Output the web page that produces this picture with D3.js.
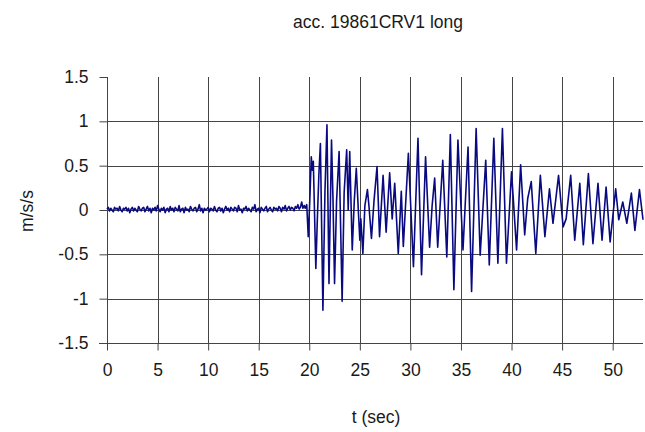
<!DOCTYPE html>
<html>
<head>
<meta charset="utf-8">
<script src="https://cdn.jsdelivr.net/npm/d3@7"></script>
<style>
  body { margin: 0; background: #fff; }
  text { font-family: "Liberation Sans", Arial, sans-serif; fill: #1a1a1a; }
</style>
</head>
<body>
<div id="chart"></div>
<script>
'use strict';

// chart texts
const chartTitle = 'acc. 19861CRV1 long';
const xLabel = 't (sec)';
const yLabel = 'm/s/s';

// tick values
const xTicks = [0, 5, 10, 15, 20, 25, 30, 35, 40, 45, 50];
const yTicks = [-1.5, -1, -0.5, 0, 0.5, 1, 1.5];

// quiet part of the record, one reading every 0.125 s from t = 0 to 19.5 s
const quietStep = 0.125;
const quietAccel = [
  0.01, 0.03, -0.01, 0.02, 0.00, -0.02, 0.03, 0.01, 0.02, -0.01,
  0.04, 0.00, -0.02, 0.02, 0.01, 0.03, -0.01, 0.02, -0.03, 0.01,
  0.03, -0.01, 0.02, 0.00, -0.02, 0.04, 0.01, -0.01, 0.02, 0.03,
  -0.02, 0.01, 0.04, -0.01, 0.02, -0.03, 0.02, 0.00, 0.03, -0.01,
  0.05, 0.01, -0.02, 0.02, 0.00, 0.03, -0.03, 0.01, 0.02, -0.02,
  0.04, 0.00, 0.02, -0.02, 0.03, 0.01, -0.01, 0.05, -0.02, 0.01,
  0.02, -0.03, 0.03, 0.00, 0.01, -0.02, 0.04, 0.01, -0.01, 0.02,
  0.03, -0.02, 0.01, 0.06, -0.01, 0.02, -0.03, 0.02, 0.00, 0.01,
  0.03, -0.02, 0.02, 0.01, -0.01, 0.04, 0.00, -0.02, 0.02, 0.03,
  -0.01, 0.02, -0.03, 0.01, 0.04, 0.00, 0.02, -0.02, 0.03, 0.01,
  -0.01, 0.03, 0.02, -0.02, 0.05, 0.00, 0.01, -0.03, 0.02, 0.01,
  0.04, -0.01, 0.02, 0.00, -0.02, 0.03, 0.01, 0.06, -0.02, 0.01,
  0.02, -0.03, 0.03, 0.01, -0.01, 0.02, 0.04, -0.02, 0.01, 0.03,
  0.00, -0.02, 0.03, 0.01, 0.02, -0.01, 0.04, 0.02, -0.02, 0.03,
  0.01, 0.05, -0.01, 0.02, 0.04, 0.00, 0.03, 0.02, -0.01, 0.04,
  0.02, 0.06, 0.01, 0.03, 0.09, 0.02, 0.05
];

// strong motion, peaks and troughs (time in s, m/s/s)
const strongTimes = [
  19.6, 19.75, 19.9, 20.05, 20.2, 20.3, 20.4, 20.65, 20.8, 20.95,
  21.1, 21.35, 21.55, 21.75, 21.95, 22.2, 22.35, 22.5, 22.7, 22.95,
  23.25, 23.45, 23.7, 23.85, 24.0, 24.25, 24.45, 24.65, 24.85, 25.0,
  25.1, 25.3, 25.5, 25.75, 25.9, 26.15, 26.4, 26.7, 26.95, 27.3,
  27.6, 27.95, 28.2, 28.45, 28.8, 29.1, 29.3, 29.8, 30.3, 30.75,
  31.1, 31.5, 31.9, 32.15, 32.4, 32.7, 33.2, 33.6, 33.95, 34.3,
  34.7, 35.2, 35.7, 36.05, 36.5, 36.9, 37.45, 37.8, 38.25, 38.65,
  39.1, 39.5, 40.0, 40.5, 40.9, 41.3, 41.6, 41.95, 42.4, 42.85,
  43.3, 43.75, 44.1, 44.65, 45.1, 45.4, 45.85, 46.25, 46.75, 47.1,
  47.6, 48.05, 48.55, 48.95, 49.35, 49.75, 50.3, 50.6, 51.0, 51.4,
  51.85, 52.2, 52.65, 53.0
];
const strongAccel = [
  0.02, 0.06, -0.30, 0.10, 0.60, 0.45, 0.55, -0.66, -0.10, 0.40,
  0.75, -1.13, 0.20, 0.96, -0.83, 0.79, 0.10, -0.83, 0.10, 0.66,
  -1.03, 0.20, 0.68, 0.00, 0.66, -0.45, 0.10, 0.47, 0.00, -0.34,
  -0.10, -0.49, 0.05, 0.23, 0.05, -0.32, 0.10, 0.49, -0.30, 0.39,
  -0.25, 0.42, -0.10, 0.30, -0.49, 0.21, -0.41, 0.64, -0.64, 0.81,
  -0.73, 0.60, -0.42, 0.05, 0.36, -0.42, 0.56, -0.53, 0.85, -0.90,
  0.79, -0.45, 0.71, -0.92, 0.92, -0.51, 0.56, -0.62, 0.81, -0.60,
  0.92, -0.60, 0.43, -0.45, 0.51, -0.28, 0.13, 0.32, -0.49, 0.39,
  -0.30, 0.24, -0.15, 0.39, -0.19, -0.10, 0.39, -0.34, 0.30, -0.39,
  0.41, -0.38, 0.30, -0.34, 0.26, -0.36, 0.24, -0.11, 0.09, -0.15,
  0.19, -0.23, 0.23, -0.11
];

const width = 645;
const height = 432;
const margin = { left: 107, right: 2, top: 77, bottom: 89 };
const plotW = width - margin.left - margin.right;
const plotH = height - margin.top - margin.bottom;

const svg = d3.select('#chart')
  .append('svg')
    .attr('width', width)
    .attr('height', height);

const x = d3.scaleLinear().domain([0, 53]).range([0, plotW]);
const y = d3.scaleLinear().domain([-1.5, 1.5]).range([plotH, 0]);

const g = svg.append('g')
  .attr('transform', `translate(${margin.left},${margin.top})`);

const gridColor = '#444';

// horizontal grid lines (none at the top value)
g.append('g')
  .selectAll('line')
  .data(yTicks.filter(v => v > -1.5 && v < 1.5))
  .join('line')
    .attr('x1', 0)
    .attr('x2', plotW)
    .attr('y1', d => Math.round(y(d)) + 0.5)
    .attr('y2', d => Math.round(y(d)) + 0.5)
    .attr('stroke', gridColor)
    .attr('stroke-width', 1);

// vertical grid lines
g.append('g')
  .selectAll('line')
  .data(xTicks.filter(v => v > 0))
  .join('line')
    .attr('x1', d => Math.round(x(d)) + 0.5)
    .attr('x2', d => Math.round(x(d)) + 0.5)
    .attr('y1', y(1.5))
    .attr('y2', plotH)
    .attr('stroke', gridColor)
    .attr('stroke-width', 1);

// y axis
const yAxis = g.append('g')
  .attr('transform', 'translate(0.5,0)')
  .call(d3.axisLeft(y).tickValues(yTicks).tickSize(8).tickPadding(11)
    .tickFormat(d => String(d)));
yAxis.select('.domain').remove();
yAxis.selectAll('line').attr('stroke', gridColor).attr('x2', -8);
yAxis.append('line')
  .attr('x1', 0).attr('x2', 0)
  .attr('y1', y(1.5)).attr('y2', plotH)
  .attr('stroke', gridColor);
yAxis.selectAll('text')
  .style('font-size', '17.5px')
  .attr('fill', '#1a1a1a');

// x axis
const xAxis = g.append('g')
  .attr('transform', `translate(0,${plotH + 0.5})`)
  .call(d3.axisBottom(x).tickValues(xTicks).tickSize(7).tickPadding(13));
xAxis.select('.domain').remove();
xAxis.selectAll('line').attr('stroke', gridColor);
xAxis.append('line')
  .attr('x1', -8).attr('x2', plotW)
  .attr('y1', 0).attr('y2', 0)
  .attr('stroke', gridColor);
xAxis.selectAll('text')
  .style('font-size', '17.5px')
  .attr('fill', '#1a1a1a');

// the record: quiet readings on their sampling grid, then the strong part
const series = quietAccel.map((v, i) => [i * quietStep, v])
  .concat(strongTimes.map((t, i) => [t, strongAccel[i]]));
g.append('path')
  .datum(series)
  .attr('fill', 'none')
  .attr('stroke', '#0a0a80')
  .attr('stroke-width', 1.6)
  .attr('stroke-linejoin', 'round')
  .attr('d', d3.line().x(d => x(d[0])).y(d => y(d[1])));

// titles
svg.append('text')
  .attr('x', 378)
  .attr('y', 28)
  .attr('text-anchor', 'middle')
  .style('font-size', '17.5px')
  .text(chartTitle);

svg.append('text')
  .attr('x', 376)
  .attr('y', 423)
  .attr('text-anchor', 'middle')
  .style('font-size', '17.5px')
  .text(xLabel);

svg.append('text')
  .attr('transform', 'translate(33,211) rotate(-90)')
  .attr('text-anchor', 'middle')
  .style('font-size', '17.5px')
  .text(yLabel);
</script>
</body>
</html>
